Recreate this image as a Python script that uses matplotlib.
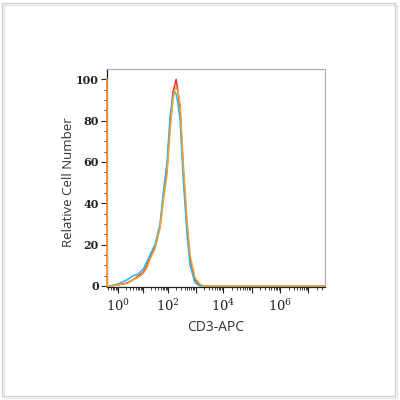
import matplotlib.pyplot as plt
import numpy as np
from matplotlib.patches import Rectangle
from matplotlib.ticker import FixedLocator, NullFormatter

# CD3-APC intensity (shared x for the three histograms)
intensity = [0.36, 0.37, 0.5, 1.0, 2.3, 4.0, 6.0, 10.0, 14.5, 19.0, 30.0, 48.0, 63.0, 91.0,
             118.0, 151.0, 175.0, 196.0, 230.0, 275.0, 355.0, 490.0, 630.0, 955.0,
             1450.0, 2000.0, 3.8e7]

red = [100, 0, 0, 0.5, 1.5, 3, 4.5, 6.5, 10, 14, 19, 29, 42, 57,
       78, 94, 97, 100, 94, 86, 57, 29, 13, 3, 0.3, 0, 0]
blue = [0, 0, 0, 1, 3, 5, 5.5, 8, 12, 15, 20, 30, 44, 60,
        82, 92, 94, 93, 88, 80, 52, 25, 10, 1.5, 0, 0, 0]
orange = [100, 0, 0, 0.5, 1.2, 3, 4, 6, 9, 13, 18, 28, 40, 54,
          75, 90, 95, 96, 94, 88, 60, 32, 15, 4, 0.8, 0, 0]

yticks = [0, 20, 40, 60, 80, 100]
xlabel_decades = [0, 2, 4, 6]

# logicle-like axis: decades are not evenly spaced
dec_pts = [-1, 0, 2, 4, 6, 8]
pos_pts = [-25.0, 0.0, 50.0, 105.0, 162.0, 219.0]


def fwd(x):
    d = np.log10(np.clip(np.asarray(x, dtype=float), 1e-3, None))
    return np.interp(d, dec_pts, pos_pts)


def inv(u):
    d = np.interp(np.asarray(u, dtype=float), pos_pts, dec_pts)
    return 10.0 ** d


plt.rcParams['mathtext.fontset'] = 'dejavuserif'

fig = plt.figure(figsize=(4, 4), dpi=100)
ax = fig.add_axes([107 / 400, 1 - 287 / 400, 218 / 400, 218 / 400])

ax.plot(intensity, red, color='#e8312f', lw=1.1, zorder=3, clip_on=False)
ax.plot(intensity, blue, color='#2bb5e6', lw=1.1, zorder=3, clip_on=False)
ax.plot(intensity, orange, color='#f5a232', lw=1.1, zorder=3, clip_on=False)

ax.set_xscale('function', functions=(fwd, inv))
ax.set_xlim(0.36, 3.8e7)
ax.set_ylim(-0.5, 105)

major = [10.0 ** k for k in range(0, 8)]
minor = [m * 10.0 ** k for k in range(-1, 8) for m in range(2, 10)
         if 0.36 <= m * 10.0 ** k <= 3.8e7]
ax.xaxis.set_major_locator(FixedLocator(major))
ax.xaxis.set_minor_locator(FixedLocator(minor))
ax.set_xticklabels([r'$10^{%d}$' % k if k in xlabel_decades else '' for k in range(0, 8)],
                   fontsize=9.5)
ax.xaxis.set_minor_formatter(NullFormatter())

ax.set_yticks(yticks)
ax.set_yticks(np.arange(0, 105, 5), minor=True)
ax.set_yticklabels([str(v) for v in yticks], family='DejaVu Serif', fontsize=8,
                   weight='bold')

ax.tick_params(axis='both', which='major', direction='out', length=4, width=0.8,
               colors='#222222', pad=2)
ax.tick_params(axis='x', which='major', pad=4)
ax.tick_params(axis='both', which='minor', direction='out', length=2.5, width=0.6,
               colors='#222222')

for s in ['top', 'right']:
    ax.spines[s].set_color('#aaaaaa')
    ax.spines[s].set_linewidth(0.8)
for s in ['left', 'bottom']:
    ax.spines[s].set_color('#222222')
    ax.spines[s].set_linewidth(0.9)

ax.set_ylabel('Relative Cell Number', family='Open Sans', fontsize=9.5, color='#333333')
ax.set_xlabel('CD3-APC', family='Open Sans', fontsize=10, color='#333333')
ax.yaxis.set_label_coords(-0.145, 0.48)
ax.xaxis.set_label_coords(0.5, -0.15)

# outer frame of the picture
fig.patches.append(Rectangle((2 / 400, 4 / 400), 393 / 400, 393 / 400, transform=fig.transFigure,
                             fill=False, edgecolor='#cfcfcf', lw=1.0))
fig.patches.append(Rectangle((4 / 400, 2 / 400), 393 / 400, 393 / 400, transform=fig.transFigure,
                             fill=False, edgecolor='#e6e6e6', lw=1.0, zorder=-1))

fig.savefig('out.png', dpi=100)
